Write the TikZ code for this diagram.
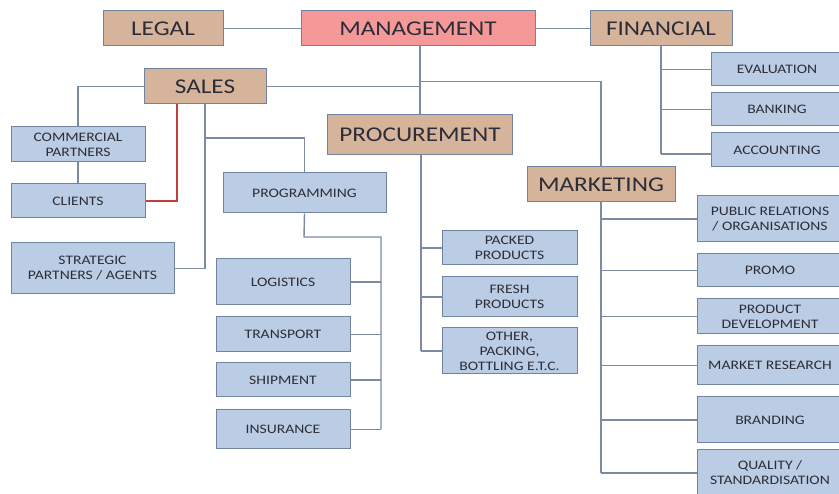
\documentclass[tikz,border=0pt]{standalone}
\usepackage{fontspec}
\setmainfont[FakeStretch=1.2]{Carlito}
\usetikzlibrary{calc}
\definecolor{tanfill}{RGB}{213,180,155}
\definecolor{pinkfill}{RGB}{244,152,152}
\definecolor{bluefill}{RGB}{186,205,228}
\definecolor{boxline}{RGB}{112,132,160}
\definecolor{linkline}{RGB}{122,140,162}
\definecolor{redline}{RGB}{196,62,62}
\definecolor{txt}{RGB}{45,45,55}
\tikzset{
  unitbox/.style={draw=boxline, line width=1pt, inner sep=0pt, align=center, text=txt},
  head/.style={unitbox, fill=tanfill, font=\fontsize{21}{24}\selectfont},
  mgmt/.style={unitbox, fill=pinkfill, font=\fontsize{21}{24}\selectfont},
  leaf/.style={unitbox, fill=bluefill, font=\fontsize{13}{15}\selectfont},
  link/.style={draw=linkline, line width=1.4pt},
  redlink/.style={draw=redline, line width=1.4pt},
}
\begin{document}
\begin{tikzpicture}[x=1pt, y=-1pt]
\useasboundingbox (0,0) rectangle (839,494);
\clip (0,0) rectangle (839,494);
\fill[white] (0,0) rectangle (839,494);

% top level
\node[head, minimum width=120, minimum height=35] (legal) at (163,28.5) {LEGAL};
\node[mgmt, minimum width=234, minimum height=35] (mgmt) at (418,28.5) {MANAGEMENT};
\node[head, minimum width=142, minimum height=35] (fin) at (661,28.5) {FINANCIAL};

% departments
\node[head, minimum width=122, minimum height=35] (sales) at (205,86.5) {SALES};
\node[head, minimum width=185, minimum height=40] (proc) at (420,135) {PROCUREMENT};
\node[head, minimum width=148, minimum height=35] (mkt) at (601,184.5) {MARKETING};

% financial
\node[leaf, minimum width=132, minimum height=33] (eval) at (777,69.5) {EVALUATION};
\node[leaf, minimum width=132, minimum height=33] (bank) at (777,109.5) {BANKING};
\node[leaf, minimum width=132, minimum height=34] (acct) at (777,150) {ACCOUNTING};

% marketing
\node[leaf, minimum width=146, minimum height=46] (pr) at (770,219) {PUBLIC RELATIONS\\/ ORGANISATIONS};
\node[leaf, minimum width=146, minimum height=33] (promo) at (770,270.5) {PROMO};
\node[leaf, minimum width=146, minimum height=35] (pdev) at (770,316.5) {PRODUCT\\DEVELOPMENT};
\node[leaf, minimum width=146, minimum height=39] (mres) at (770,365.5) {MARKET RESEARCH};
\node[leaf, minimum width=146, minimum height=46] (brand) at (770,420) {BRANDING};
\node[leaf, minimum width=146, minimum height=46] (qual) at (770,473) {QUALITY /\\STANDARDISATION};

% procurement
\node[leaf, minimum width=135, minimum height=34] (packed) at (509.5,248) {PACKED\\PRODUCTS};
\node[leaf, minimum width=135, minimum height=40] (fresh) at (509.5,297) {FRESH\\PRODUCTS};
\node[leaf, minimum width=135, minimum height=46] (other) at (509.5,351) {OTHER,\\PACKING,\\BOTTLING E.T.C.};

% sales
\node[leaf, minimum width=134, minimum height=35] (comm) at (78,144.5) {COMMERCIAL\\PARTNERS};
\node[leaf, minimum width=134, minimum height=34] (clients) at (78,201) {CLIENTS};
\node[leaf, minimum width=163, minimum height=51] (strat) at (92.5,268.5) {STRATEGIC\\PARTNERS / AGENTS};
\node[leaf, minimum width=163, minimum height=40] (prog) at (304.5,193) {PROGRAMMING};
\node[leaf, minimum width=134, minimum height=46] (logi) at (283,282) {LOGISTICS};
\node[leaf, minimum width=134, minimum height=35] (trans) at (283,334.5) {TRANSPORT};
\node[leaf, minimum width=134, minimum height=34] (ship) at (283,380) {SHIPMENT};
\node[leaf, minimum width=134, minimum height=39] (ins) at (283,429.5) {INSURANCE};

% junction points
\coordinate (mkturn) at (419,81.5);
\coordinate (finfoot) at (661,154);
\coordinate (redtop) at (177,104);
\coordinate (progturn) at (205,138);
\coordinate (progdrop) at (304,237);
\coordinate (progbus) at (381,237);
\coordinate (mktfoot) at (601,473);
\coordinate (procfoot) at (421,351);

% connectors: top row
\draw[link] (legal.east) -- (mgmt.west);
\draw[link] (mgmt.east) -- (fin.west);
\draw[link] (proc.north |- mgmt.south) -- (proc.north);
\draw[link] (sales.east) -- (sales.east -| proc.north);
\draw[link] (mkturn) -| (mkt.north);

% connectors: financial
\draw[link] (fin.south) -- (finfoot);
\draw[link] (eval.west -| fin.south) -- (eval.west);
\draw[link] (bank.west -| fin.south) -- (bank.west);
\draw[link] (finfoot) -- (finfoot -| acct.west);

% connectors: marketing
\draw[link] (mkt.south) -- (mktfoot);
\foreach \n in {pr,promo,pdev,mres,brand,qual}
  \draw[link] (\n.west -| mkt.south) -- (\n.west);

% connectors: procurement
\draw[link] (proc.south -| procfoot) -- (procfoot);
\foreach \n in {packed,fresh,other}
  \draw[link] (\n.west -| procfoot) -- (\n.west);

% connectors: sales
\draw[link] (sales.west) -| (comm.north);
\draw[link] (comm.south) -- (clients.north);
\draw[redlink] (clients.east) -| (redtop);
\draw[link] (sales.south) |- (strat.east);
\draw[link] (progturn) -| (prog.north);
\draw[link] (prog.south) -- (progdrop) -- (progbus) -- (progbus |- ins.east);
\foreach \n in {logi,trans,ship,ins}
  \draw[link] (\n.east) -- (\n.east -| progbus);
\end{tikzpicture}
\end{document}
